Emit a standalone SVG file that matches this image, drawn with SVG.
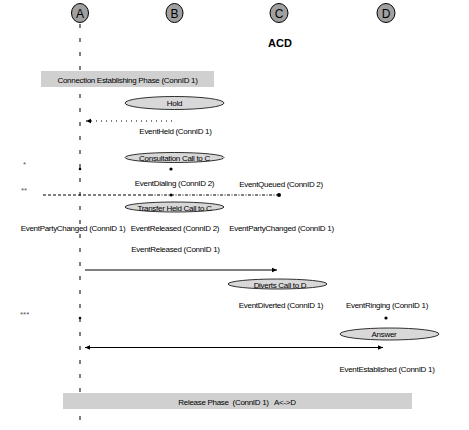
<svg xmlns="http://www.w3.org/2000/svg" width="469" height="430" viewBox="0 0 469 430">
<style>
text{font-family:"Liberation Sans",Arial,sans-serif;fill:#000}
.lbl{font-size:8px;text-anchor:middle;letter-spacing:-0.3px}
.node{fill:#a0a0a0;stroke:#000;stroke-width:1}
.nt{font-size:12px;text-anchor:middle}
.ell{fill:#d8d8d8;stroke:#000;stroke-width:0.8}
.bar{fill:#d0d0d0}
.ln{stroke:#000;stroke-width:1;fill:none}
.star{font-size:8px;fill:#555}
</style>
<defs>
<marker id="ah" markerWidth="6" markerHeight="6" refX="5" refY="3" orient="auto" markerUnits="userSpaceOnUse">
<path d="M0,0.8 L5,3 L0,5.2 Z" fill="#000"/>
</marker>
<marker id="ahs" markerWidth="6" markerHeight="6" refX="1" refY="3" orient="auto" markerUnits="userSpaceOnUse">
<path d="M6,0.8 L1,3 L6,5.2 Z" fill="#000"/>
</marker>
</defs>
<rect width="469" height="430" fill="#fff"/>
<g id="lifeline-A">
<line x1="80" y1="24" x2="80" y2="430" stroke="#000" stroke-width="1" stroke-dasharray="4,10"/>
</g>
<g id="node-A"><ellipse class="node" cx="80" cy="13" rx="8.5" ry="9.5"/><text class="nt" x="80" y="18">A</text></g>
<g id="node-B"><ellipse class="node" cx="174.5" cy="13" rx="8.5" ry="9.5"/><text class="nt" x="174.5" y="18">B</text></g>
<g id="node-C"><ellipse class="node" cx="279" cy="13" rx="9" ry="9.5"/><text class="nt" x="279" y="18">C</text></g>
<g id="node-D"><ellipse class="node" cx="386" cy="13" rx="9" ry="9.5"/><text class="nt" x="386" y="18">D</text></g>
<text x="280" y="47" style="font-size:11px;font-weight:bold;text-anchor:middle">ACD</text>
<g id="phase-connection">
<rect class="bar" x="41" y="71" width="173" height="16"/>
<text class="lbl" x="127.5" y="83">Connection Establishing Phase (ConnID 1)</text>
</g>
<g id="hold"><ellipse class="ell" cx="174.5" cy="103" rx="49.5" ry="6.5"/><text class="lbl" x="174.5" y="106">Hold</text></g>
<g id="consultation"><ellipse class="ell" cx="174.5" cy="157.5" rx="49.5" ry="5"/><text class="lbl" x="174.5" y="161">Consultation Call to C</text></g>
<g id="transfer"><ellipse class="ell" cx="174.5" cy="207" rx="49.5" ry="5"/><text class="lbl" x="174.5" y="210.5">Transfer Held Call to C</text></g>
<g id="diverts"><ellipse class="ell" cx="277.5" cy="284" rx="49.5" ry="5"/><text class="lbl" x="280" y="287.5">Diverts Call to D</text></g>
<g id="answer"><ellipse class="ell" cx="389.5" cy="334" rx="49.5" ry="6"/><text class="lbl" x="384" y="337">Answer</text></g>
<g id="connectors">
<line class="ln" x1="172" y1="121" x2="86" y2="121" stroke-dasharray="1,4" marker-end="url(#ah)"/>
<circle cx="80" cy="169" r="1.3" fill="#000"/>
<circle cx="171" cy="169" r="1.6" fill="#000"/>
<line class="ln" x1="43" y1="195" x2="150" y2="195" stroke-dasharray="3,2"/>
<line class="ln" x1="150" y1="195" x2="278" y2="195" stroke-dasharray="3,1.5,1,1.5"/>
<circle cx="171" cy="195" r="1.5" fill="#000"/>
<circle cx="279" cy="195" r="2" fill="#000"/>
<line class="ln" x1="85" y1="270" x2="277" y2="270" marker-end="url(#ah)"/>
<circle cx="80" cy="318" r="1.3" fill="#000"/>
<circle cx="386" cy="318" r="1.6" fill="#000"/>
<line class="ln" x1="85" y1="347.5" x2="383" y2="347.5" marker-start="url(#ahs)" marker-end="url(#ah)"/>
</g>
<g id="labels">
<text class="lbl" x="175.5" y="134">EventHeld (ConnID 1)</text>
<text class="lbl" x="174.5" y="186">EventDialing (ConnID 2)</text>
<text class="lbl" x="281" y="187">EventQueued (ConnID 2)</text>
<text class="lbl" x="73" y="231">EventPartyChanged (ConnID 1)</text>
<text class="lbl" x="175" y="231">EventReleased (ConnID 2)</text>
<text class="lbl" x="281.5" y="231">EventPartyChanged (ConnID 1)</text>
<text class="lbl" x="175.5" y="252">EventReleased (ConnID 1)</text>
<text class="lbl" x="281" y="307.5">EventDiverted (ConnID 1)</text>
<text class="lbl" x="387" y="307.5">EventRinging (ConnID 1)</text>
<text class="lbl" x="387" y="371.5">EventEstablished (ConnID 1)</text>
<text class="star" x="23" y="167">*</text>
<text class="star" x="21" y="193">**</text>
<text class="star" x="20" y="317">***</text>
</g>
<g id="phase-release">
<rect class="bar" x="63" y="393" width="349" height="16"/>
<text class="lbl" x="237" y="405" style="white-space:pre" xml:space="preserve">Release Phase  (ConnID 1)   A&lt;-&gt;D</text>
</g>
</svg>
